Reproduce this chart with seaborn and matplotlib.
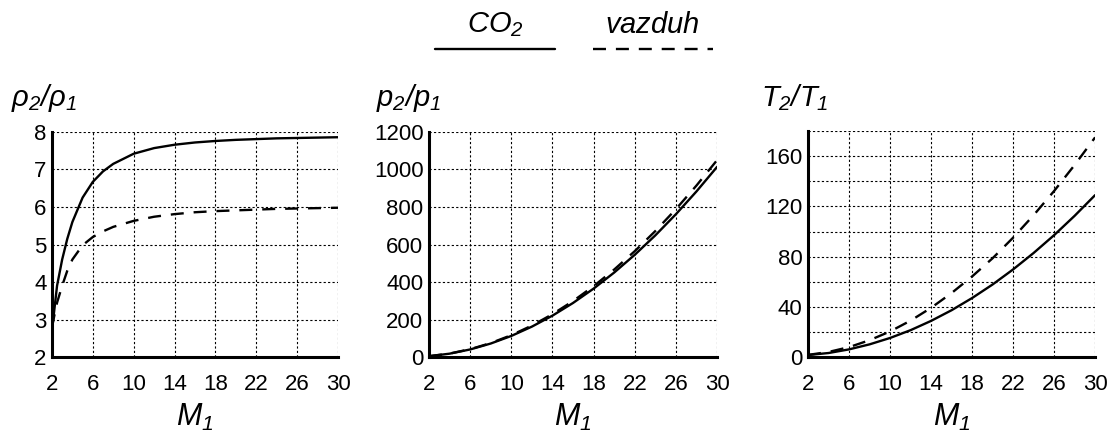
import numpy as np
import pandas as pd
import matplotlib
matplotlib.use("Agg")
import matplotlib.pyplot as plt
from matplotlib.lines import Line2D
from matplotlib.ticker import FixedLocator
import seaborn as sns

# Podaci ocitani sa slike
M_rho = [2, 2.5, 3, 3.5, 4, 5, 6, 7, 8, 10, 12, 14, 16, 18, 20, 22, 24, 26, 28, 30]
rho_co2 = [2.7, 3.9, 4.6, 5.15, 5.6, 6.25, 6.67, 6.95, 7.15, 7.42, 7.57, 7.66,
           7.72, 7.76, 7.79, 7.81, 7.83, 7.84, 7.85, 7.86]
rho_air = [2.8, 3.45, 3.9, 4.3, 4.6, 4.98, 5.2, 5.35, 5.47, 5.63, 5.74, 5.81,
           5.86, 5.89, 5.91, 5.93, 5.95, 5.96, 5.97, 5.98]

M = [2, 4, 6, 8, 10, 12, 14, 16, 18, 20, 22, 24, 26, 28, 30]
p_co2 = [4.4, 17.9, 40.4, 72.0, 112.5, 162.1, 220.7, 288.3, 364.9, 450.5,
         545.2, 648.8, 761.5, 883.1, 1013.8]
p_air = [4.5, 18.5, 41.8, 74.5, 116.5, 167.8, 228.5, 298.5, 377.8, 466.5,
         564.5, 671.8, 788.5, 914.5, 1049.8]
T_co2 = [1.6, 3.2, 6.1, 10.1, 15.2, 21.4, 28.8, 37.3, 47.0, 57.8, 69.8, 82.9,
         97.1, 112.5, 129.0]
T_air = [1.7, 4.05, 7.9, 13.4, 20.4, 29.0, 39.2, 51.0, 64.2, 78.7, 95.1, 113.0,
         132.3, 153.0, 175.0]

x_ticks = [2, 6, 10, 14, 18, 22, 26, 30]

sns.set_style("white")
plt.rcParams["font.family"] = ["Liberation Sans", "DejaVu Sans"]
plt.rcParams["mathtext.fontset"] = "custom"
plt.rcParams["mathtext.rm"] = "Liberation Sans:italic"
plt.rcParams["mathtext.it"] = "Liberation Sans:italic"
plt.rcParams["text.color"] = "black"
plt.rcParams["axes.labelcolor"] = "black"
plt.rcParams["xtick.color"] = "black"
plt.rcParams["ytick.color"] = "black"

fig = plt.figure(figsize=(11.1, 4.37), dpi=100)
positions = [[0.0468, 0.183, 0.2577, 0.515],
             [0.3865, 0.183, 0.2595, 0.515],
             [0.728, 0.183, 0.2586, 0.517]]
axes = [fig.add_axes(p) for p in positions]

lw = 1.7
dash = (0, (5.5, 4.2))

panels = [
    (M_rho, rho_co2, rho_air, (2, 8), [2, 3, 4, 5, 6, 7, 8], [], r"$\rho_2/\rho_1$", 0.010),
    (M, p_co2, p_air, (0, 1200), [0, 200, 400, 600, 800, 1000, 1200], [], r"$p_2/p_1$", 0.339),
    (M, T_co2, T_air, (0, 180), [0, 40, 80, 120, 160], [20, 60, 100, 140, 180],
     r"$T_2/T_1$", 0.686),
]

for ax, (x, co2, air, ylim, yt, ymin, ylab, lx) in zip(axes, panels):
    df = pd.DataFrame({"M": x, "CO2": co2, "vazduh": air})
    sns.lineplot(data=df, x="M", y="CO2", ax=ax, color="black", lw=lw)
    sns.lineplot(data=df, x="M", y="vazduh", ax=ax, color="black", lw=lw,
                 linestyle=dash)
    ax.set_xlim(2, 30)
    ax.set_ylim(*ylim)
    ax.xaxis.set_major_locator(FixedLocator(x_ticks))
    ax.yaxis.set_major_locator(FixedLocator(yt))
    ax.yaxis.set_minor_locator(FixedLocator(ymin))
    ax.set_xticklabels([str(t) for t in x_ticks])
    ax.set_yticklabels([str(t) for t in yt])
    ax.grid(True, which="both", color="black", lw=0.8, linestyle=(0, (2, 2)))
    ax.tick_params(axis="both", which="both", length=0, labelsize=16)
    ax.tick_params(axis="x", pad=12)
    ax.tick_params(axis="y", pad=4)
    for s in ["top", "right"]:
        ax.spines[s].set_visible(False)
    for s in ["left", "bottom"]:
        ax.spines[s].set_color("black")
        ax.spines[s].set_linewidth(2.2)
    ax.set_ylabel("")
    ax.set_xlabel(r"$M_1$", fontsize=22, labelpad=5)
    fig.text(lx, 0.776, ylab, fontsize=21, va="center", ha="left")

# Legenda
fig.text(0.446, 0.943, r"$CO_2$", fontsize=21, ha="center", va="center")
fig.text(0.588, 0.943, r"$vazduh$", fontsize=21, ha="center", va="center")
fig.add_artist(Line2D([0.392, 0.500], [0.888, 0.888], color="black", lw=lw,
                      transform=fig.transFigure))
fig.add_artist(Line2D([0.534, 0.642], [0.888, 0.888], color="black", lw=lw,
                      linestyle=dash, transform=fig.transFigure))

fig.savefig("out.png", dpi=100)
